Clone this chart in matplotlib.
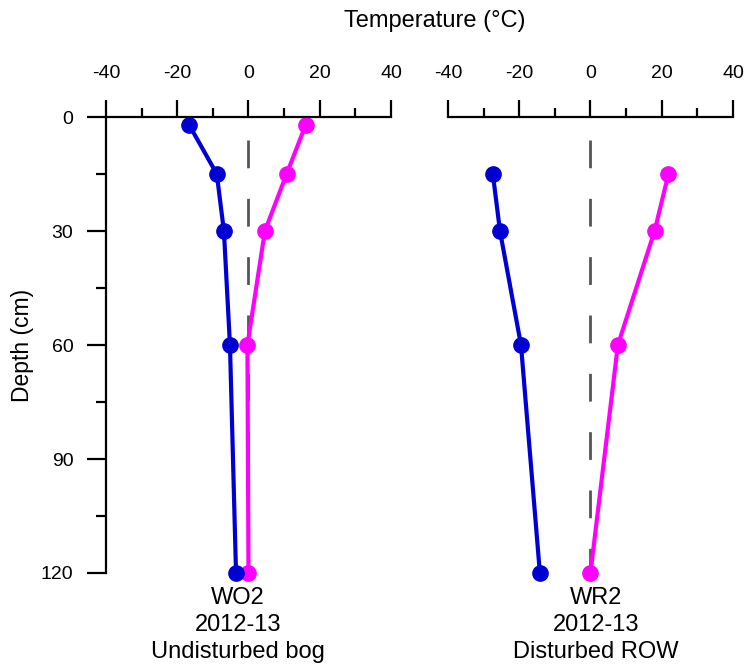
import matplotlib.pyplot as plt
from matplotlib.ticker import MultipleLocator

plt.rcParams['font.family'] = ['Liberation Sans', 'DejaVu Sans']
plt.rcParams['lines.scale_dashes'] = False
plt.rcParams['axes.unicode_minus'] = False

# WO2 undisturbed bog
wo2_depth = [2, 15, 30, 60, 120]
wo2_min = [-16.7, -8.9, -6.9, -5.2, -3.5]
wo2_max = [16.1, 10.7, 4.6, -0.3, 0.0]

# WR2 disturbed ROW
wr2_depth = [15, 30, 60, 120]
wr2_min = [-27.4, -25.4, -19.5, -14.2]
wr2_max = [21.9, 18.0, 7.7, 0.0]

labels = ["WO2\n2012-13\nUndisturbed bog", "WR2\n2012-13\nDisturbed ROW"]
label_x = [0.463, 0.52]
blue = '#0000d2'
pink = '#ff00ff'

fig = plt.figure(figsize=(7.47, 6.69), dpi=100)
ax1 = fig.add_axes([0.1419, 0.1435, 0.3815, 0.6816])
ax2 = fig.add_axes([0.5997, 0.1435, 0.3815, 0.6816])

panels = [(ax1, wo2_depth, wo2_min, wo2_max), (ax2, wr2_depth, wr2_min, wr2_max)]
for i, (ax, d, tmin, tmax) in enumerate(panels):
    ax.plot([0, 0], [6, 120], color='#555555', lw=2, linestyle=(0, (20, 22)), zorder=1)
    ax.plot(tmin, d, color=blue, lw=3, marker='o', ms=11, clip_on=False, zorder=3)
    ax.plot(tmax, d, color=pink, lw=3, marker='o', ms=11, clip_on=False, zorder=2)
    ax.set_xlim(-40, 40)
    ax.set_ylim(120, 0)
    ax.xaxis.set_ticks_position('top')
    ax.xaxis.set_major_locator(MultipleLocator(20))
    ax.xaxis.set_minor_locator(MultipleLocator(10))
    ax.tick_params(axis='x', which='major', direction='out', length=12.5, width=1.6,
                   pad=13, labelsize=14)
    ax.tick_params(axis='x', which='minor', direction='out', length=6.5, width=1.6)
    for s in ['right', 'bottom']:
        ax.spines[s].set_visible(False)
    ax.spines['top'].set_linewidth(1.6)
    ax.text(label_x[i], -0.03, labels[i], transform=ax.transAxes, ha='center', va='top',
            fontsize=17, linespacing=1.3)
    ax.patch.set_alpha(0)

ax1.yaxis.set_major_locator(MultipleLocator(30))
ax1.yaxis.set_minor_locator(MultipleLocator(15))
ax1.tick_params(axis='y', which='major', direction='out', length=13.5, width=1.6,
                pad=10, labelsize=14)
ax1.tick_params(axis='y', which='minor', direction='out', length=7, width=1.6)
ax1.spines['left'].set_linewidth(1.6)
ax1.set_ylabel('Depth (cm)', fontsize=16.5, labelpad=5)

ax2.spines['left'].set_visible(False)
ax2.set_yticks([])

fig.text(0.582, 0.968, 'Temperature (°C)', ha='center', va='center', fontsize=17)

fig.savefig('out.png', dpi=100)
